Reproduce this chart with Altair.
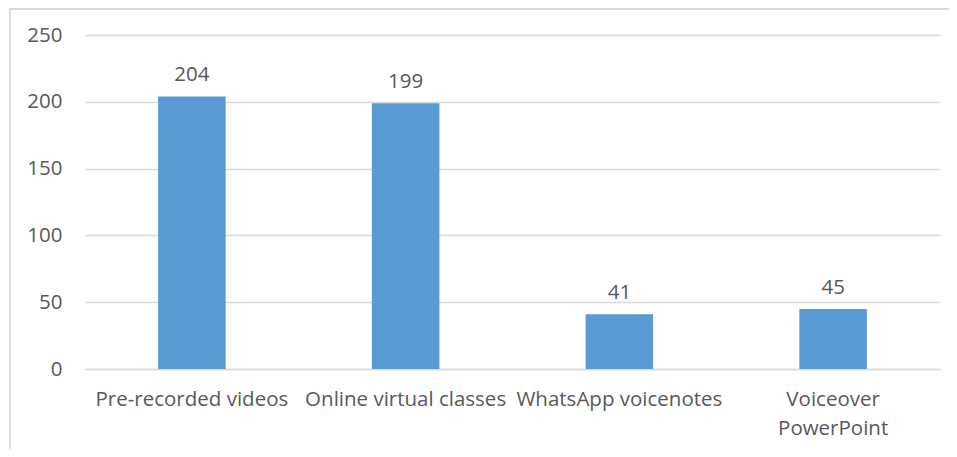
import altair as alt
import pandas as pd

categories = ["Pre-recorded videos", "Online virtual classes", "WhatsApp voicenotes", "Voiceover PowerPoint"]
values = [204, 199, 41, 45]

df = pd.DataFrame({"cat": categories, "val": values})

FONT = "Open Sans"
FS = 20.5
TXT = "#595959"

x = alt.X("cat:N", sort=categories, title=None,
          scale=alt.Scale(paddingInner=0.684, paddingOuter=0.342),
          axis=alt.Axis(labelAngle=0, labelFont=FONT, labelFontSize=FS, labelColor=TXT,
                        labelPadding=20, labelLimit=0, labelLineHeight=29,
                        labelExpr="datum.value == 'Voiceover PowerPoint' ? ['Voiceover', 'PowerPoint'] : datum.value",
                        ticks=False, domainColor="#d9d9d9", domainWidth=1.3, grid=False))
y = alt.Y("val:Q", title=None,
          scale=alt.Scale(domain=[0, 250], nice=False),
          axis=alt.Axis(values=[0, 50, 100, 150, 200, 250], labelFont=FONT, labelFontSize=FS,
                        labelColor=TXT, labelPadding=23, ticks=False, domain=False,
                        gridColor="#d9d9d9", gridWidth=1.3))

bars = alt.Chart(df).mark_bar(color="#5B9BD5").encode(x=x, y=y)
labels = alt.Chart(df).mark_text(font=FONT, fontSize=FS, color=TXT, baseline="bottom", dy=-11).encode(
    x=alt.X("cat:N", sort=categories), y="val:Q", text="val:Q")

border = alt.Chart(df).mark_rect(fill=None, stroke="#d9d9d9", strokeWidth=1.5).encode(
    x=alt.value(-75), x2=alt.value(950), y=alt.value(-26), y2=alt.value(500))

chart = alt.layer(border, bars, labels).properties(
    width=855, height=334,
    padding={"left": 77, "top": 27, "right": 9, "bottom": 80},
    autosize=alt.AutoSizeParams(type="none"),
).configure_view(stroke=None)

chart.save("out.html", embed_options={"renderer": "svg", "actions": False})
